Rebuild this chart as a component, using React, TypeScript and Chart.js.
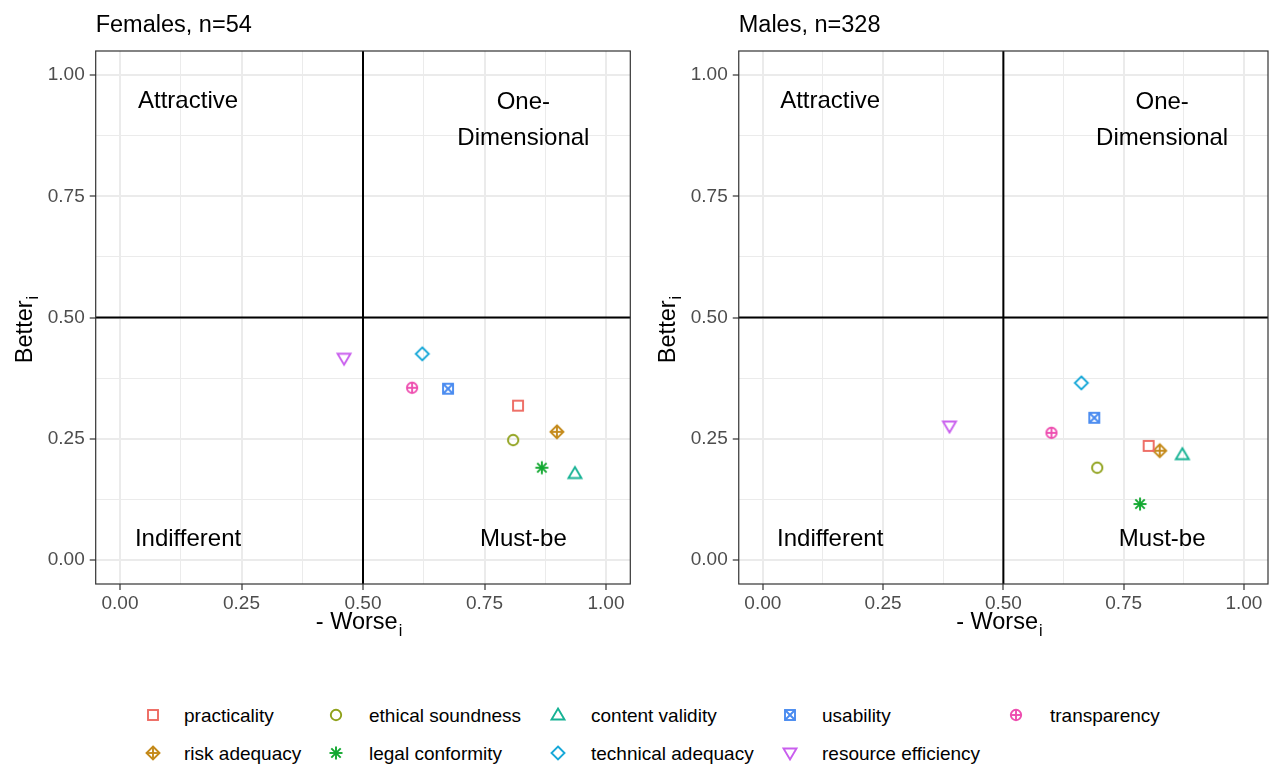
import React, { useEffect, useRef } from 'react';
import Chart from 'chart.js/auto';

// ---------- data ----------
const categories = [
  'practicality',
  'risk adequacy',
  'ethical soundness',
  'legal conformity',
  'content validity',
  'technical adequacy',
  'usability',
  'resource efficiency',
  'transparency',
];
const colors = ['#EE6A62', '#C48A1A', '#8FA11A', '#12A830', '#16B294', '#17A8D8', '#4A8BF0', '#C95EEE', '#EE4FB0'];
const shapes = ['square', 'diamondPlus', 'circle', 'asterisk', 'triangleUp', 'diamond', 'squareCross', 'triangleDown', 'circlePlus'];

const femalesWorse = [0.819, 0.899, 0.809, 0.868, 0.936, 0.622, 0.675, 0.461, 0.601];
const femalesBetter = [0.318, 0.264, 0.247, 0.19, 0.178, 0.425, 0.353, 0.416, 0.355];
const malesWorse = [0.802, 0.825, 0.695, 0.784, 0.872, 0.662, 0.689, 0.388, 0.6];
const malesBetter = [0.235, 0.225, 0.19, 0.115, 0.217, 0.365, 0.293, 0.276, 0.262];

const tickValues = [0, 0.25, 0.5, 0.75, 1];
const gridValues = [0, 0.125, 0.25, 0.375, 0.5, 0.625, 0.75, 0.875, 1];

const quadrantLabels = ['Attractive', 'One-', 'Dimensional', 'Indifferent', 'Must-be'];
const quadrantX = [0.14, 0.83, 0.83, 0.14, 0.83];
const quadrantY = [0.933, 0.93, 0.856, 0.029, 0.029];

const FONT = '"Liberation Sans", Arial, Helvetica, sans-serif';

// ---------- markers ----------
function drawMarker(g: CanvasRenderingContext2D, shape: string, color: string, cx: number, cy: number) {
  g.save();
  g.translate(cx, cy);
  g.strokeStyle = color;
  g.lineWidth = 1.9;
  g.lineJoin = 'miter';
  const line = (x1: number, y1: number, x2: number, y2: number) => {
    g.beginPath();
    g.moveTo(x1, y1);
    g.lineTo(x2, y2);
    g.stroke();
  };
  const poly = (pts: number[][]) => {
    g.beginPath();
    g.moveTo(pts[0][0], pts[0][1]);
    for (let i = 1; i < pts.length; i++) g.lineTo(pts[i][0], pts[i][1]);
    g.closePath();
    g.stroke();
  };
  const r = 5.2;
  const d = 6.5;
  switch (shape) {
    case 'square':
      g.strokeRect(-5, -5, 10, 10);
      break;
    case 'squareCross':
      g.strokeRect(-5, -5, 10, 10);
      line(-5, -5, 5, 5);
      line(5, -5, -5, 5);
      break;
    case 'circle':
      g.beginPath();
      g.arc(0, 0, r, 0, Math.PI * 2);
      g.stroke();
      break;
    case 'circlePlus':
      g.beginPath();
      g.arc(0, 0, r, 0, Math.PI * 2);
      g.stroke();
      line(0, -r, 0, r);
      line(-r, 0, r, 0);
      break;
    case 'triangleUp':
      poly([[0, -6.5], [6.5, 4.5], [-6.5, 4.5]]);
      break;
    case 'triangleDown':
      poly([[0, 6.5], [6.5, -4.5], [-6.5, -4.5]]);
      break;
    case 'diamond':
      poly([[0, -d], [d, 0], [0, d], [-d, 0]]);
      break;
    case 'diamondPlus':
      poly([[0, -d], [d, 0], [0, d], [-d, 0]]);
      line(0, -d, 0, d);
      line(-d, 0, d, 0);
      break;
    case 'asterisk':
      line(0, -6.5, 0, 6.5);
      line(-6.5, 0, 6.5, 0);
      line(-4.7, -4.7, 4.7, 4.7);
      line(4.7, -4.7, -4.7, 4.7);
      break;
  }
  g.restore();
}

function makeMarker(shape: string, color: string) {
  const c = document.createElement('canvas');
  c.width = 18;
  c.height = 18;
  const g = c.getContext('2d') as CanvasRenderingContext2D;
  drawMarker(g, shape, color, 9, 9);
  return c;
}

// ---------- panel plugin ----------
function panelPlugin(title: string) {
  return {
    id: 'panelDecor',
    beforeDatasetsDraw(chart: any) {
      const { ctx, chartArea: a, scales } = chart;
      const x = scales.x;
      const y = scales.y;
      ctx.save();
      ctx.strokeStyle = '#000';
      ctx.lineWidth = 2;
      const px = x.getPixelForValue(0.5);
      const py = y.getPixelForValue(0.5);
      ctx.beginPath();
      ctx.moveTo(px, a.top);
      ctx.lineTo(px, a.bottom);
      ctx.moveTo(a.left, py);
      ctx.lineTo(a.right, py);
      ctx.stroke();

      ctx.font = `24px ${FONT}`;
      ctx.fillStyle = '#000';
      ctx.textAlign = 'center';
      ctx.textBaseline = 'alphabetic';
      quadrantLabels.forEach((t, i) => {
        ctx.fillText(t, x.getPixelForValue(quadrantX[i]), y.getPixelForValue(quadrantY[i]));
      });
      ctx.restore();
    },
    afterDraw(chart: any) {
      const { ctx, chartArea: a } = chart;
      ctx.save();
      // panel border
      ctx.strokeStyle = '#333333';
      ctx.lineWidth = 1.2;
      ctx.strokeRect(a.left, a.top, a.right - a.left, a.bottom - a.top);

      // title
      ctx.fillStyle = '#000';
      ctx.font = `23.5px ${FONT}`;
      ctx.textAlign = 'left';
      ctx.textBaseline = 'alphabetic';
      ctx.fillText(title, a.left, 32);

      // x title "- Worse_i"
      const cx = (a.left + a.right) / 2;
      ctx.font = `23.5px ${FONT}`;
      const mainX = '- Worse';
      const wX = ctx.measureText(mainX).width;
      ctx.font = `16px ${FONT}`;
      const wi = ctx.measureText('i').width;
      const startX = cx - (wX + wi + 1) / 2 - 4;
      ctx.font = `23.5px ${FONT}`;
      ctx.fillText(mainX, startX, 629);
      ctx.font = `16px ${FONT}`;
      ctx.fillText('i', startX + wX + 1, 636);

      // y title "Better_i"
      const cy = (a.top + a.bottom) / 2;
      ctx.font = `23.5px ${FONT}`;
      const mainY = 'Better';
      const wY = ctx.measureText(mainY).width;
      const total = wY + wi + 1;
      ctx.translate(32, cy + 12 + total / 2);
      ctx.rotate(-Math.PI / 2);
      ctx.fillText(mainY, 0, 0);
      ctx.font = `16px ${FONT}`;
      ctx.fillText('i', wY + 1, 6);
      ctx.restore();
    },
  };
}

const isMajor = (v: number) => tickValues.some((t) => Math.abs(t - v) < 1e-9);

function makeScale(axis: 'x' | 'y', size: number) {
  return {
    type: 'linear',
    min: -0.05,
    max: 1.05,
    afterBuildTicks: (s: any) => {
      s.ticks = gridValues.map((v) => ({ value: v }));
    },
    afterFit: (s: any) => {
      if (axis === 'x') s.height = size;
      else s.width = size;
    },
    border: { display: false },
    title: { display: false },
    ticks: {
      autoSkip: false,
      maxRotation: 0,
      minRotation: 0,
      padding: axis === 'x' ? 2 : 5,
      color: '#4D4D4D',
      font: { family: FONT, size: 19 },
      callback: (v: number) => (isMajor(v) ? Number(v).toFixed(2) : ''),
    },
    grid: {
      color: '#EBEBEB',
      lineWidth: (c: any) => (c.tick && isMajor(c.tick.value) ? 2 : 1),
      tickColor: (c: any) => (c.tick && isMajor(c.tick.value) ? '#333333' : 'rgba(0,0,0,0)'),
      tickLength: 6,
      tickWidth: 1.2,
      drawTicks: true,
    },
  };
}

type PanelProps = {
  title: string;
  worse: number[];
  better: number[];
  left: number;
  width: number;
  yAxisWidth: number;
  padRight: number;
};

const HEIGHT = 660;
const PLOT_TOP = 51;
const PLOT_BOTTOM = 584;

function Panel({ title, worse, better, left, width, yAxisWidth, padRight }: PanelProps) {
  const ref = useRef<HTMLCanvasElement | null>(null);
  useEffect(() => {
    if (!ref.current) return;
    const markers = shapes.map((s, i) => makeMarker(s, colors[i]));
    const chart = new Chart(ref.current, {
      type: 'scatter',
      data: {
        datasets: categories.map((c, i) => ({
          label: c,
          data: [{ x: worse[i], y: better[i] }],
          pointStyle: markers[i] as any,
          pointRadius: 6,
          borderColor: colors[i],
          backgroundColor: colors[i],
        })),
      },
      options: {
        responsive: false,
        animation: false,
        events: [],
        layout: { padding: { top: PLOT_TOP, right: padRight, left: 0, bottom: 0 } },
        plugins: { legend: { display: false }, tooltip: { enabled: false }, title: { display: false } },
        scales: {
          x: makeScale('x', HEIGHT - PLOT_BOTTOM) as any,
          y: makeScale('y', yAxisWidth) as any,
        },
      },
      plugins: [panelPlugin(title) as any],
    });
    return () => chart.destroy();
  }, []);
  return (
    <div style={{ position: 'absolute', left, top: 0, width, height: HEIGHT }}>
      <canvas ref={ref} width={width} height={HEIGHT} style={{ display: 'block' }} />
    </div>
  );
}

// ---------- legend ----------
const legendSymbolX = [153, 336, 558, 790, 1016];
const legendTextX = [184, 369, 591, 822, 1050];
const legendRowY = [715, 753];

function LegendSymbol({ shape, color }: { shape: string; color: string }) {
  const ref = useRef<HTMLCanvasElement | null>(null);
  useEffect(() => {
    const c = ref.current;
    if (!c) return;
    const g = c.getContext('2d') as CanvasRenderingContext2D;
    g.clearRect(0, 0, 18, 18);
    drawMarker(g, shape, color, 9, 9);
  }, [shape, color]);
  return <canvas ref={ref} width={18} height={18} style={{ display: 'block' }} />;
}

function Legend() {
  return (
    <>
      {categories.map((c, i) => {
        const col = Math.floor(i / 2);
        const row = i % 2;
        const cy = legendRowY[row];
        return (
          <React.Fragment key={c}>
            <div style={{ position: 'absolute', left: legendSymbolX[col] - 9, top: cy - 9, width: 18, height: 18 }}>
              <LegendSymbol shape={shapes[i]} color={colors[i]} />
            </div>
            <div
              style={{
                position: 'absolute',
                left: legendTextX[col],
                top: cy + 8 - 17.6,
                fontFamily: FONT,
                fontSize: 19,
                lineHeight: '22px',
                color: '#000',
                whiteSpace: 'nowrap',
              }}
            >
              {c}
            </div>
          </React.Fragment>
        );
      })}
    </>
  );
}

export default function App() {
  return (
    <div
      style={{
        position: 'fixed',
        left: 0,
        top: 0,
        width: 1275,
        height: 767,
        background: '#ffffff',
        overflow: 'hidden',
      }}
    >
      <Panel title="Females, n=54" worse={femalesWorse} better={femalesBetter} left={0} width={640} yAxisWidth={95.7} padRight={9.7} />
      <Panel title="Males, n=328" worse={malesWorse} better={malesBetter} left={643} width={632} yAxisWidth={95.75} padRight={2.75} />
      <Legend />
    </div>
  );
}
